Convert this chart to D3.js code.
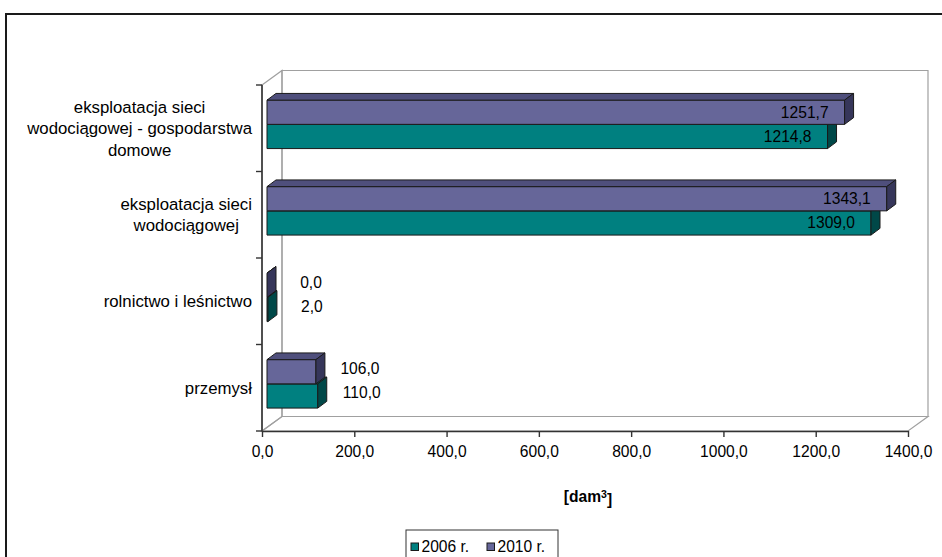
<!DOCTYPE html>
<html>
<head>
<meta charset="utf-8">
<script src="https://cdnjs.cloudflare.com/ajax/libs/d3/7.8.5/d3.min.js"></script>
<style>
  body { margin: 0; background: #fff; }
  text { font-family: "Liberation Sans", Arial, sans-serif; fill: #000; }
</style>
</head>
<body>
<svg id="chart"></svg>
<script>
// data
const categories = [
    "eksploatacja sieci\nwodociągowej - gospodarstwa\ndomowe",
    "eksploatacja sieci\nwodociągowej",
    "rolnictwo i leśnictwo",
    "przemysł"
];
const seriesNames = ["2006 r.", "2010 r."];
const values2006 = [1214.8, 1309.0, 2.0, 110.0];
const values2010 = [1251.7, 1343.1, 0.0, 106.0];
const xTicks = [0, 200, 400, 600, 800, 1000, 1200, 1400];
const axisTitle = "[dam";

const colors = {
    "2006 r.": {front: "#008080", top: "#006666", side: "#004848"},
    "2010 r.": {front: "#666699", top: "#4f4f7c", side: "#36365a"}
};

const W = 942, H = 557;
const plot = {left: 262, right: 908, top: 85, bottom: 431};
const wall = {dx: 20, dy: -14.5};            // depth of the 3d box
const bar = {dx: 9, dy: -6.7, ox: 5, oy: 3.9}; // depth of the bars

const svg = d3.select("#chart")
    .attr("width", W)
    .attr("height", H);

// outer frame
svg.append("rect")
    .attr("x", 6).attr("y", 14)
    .attr("width", 1000).attr("height", 600)
    .attr("fill", "#fff")
    .attr("stroke", "#1a1a1a")
    .attr("stroke-width", 2);

const x = d3.scaleLinear()
    .domain([0, 1400])
    .range([plot.left, plot.right]);

const yCat = d3.scaleBand()
    .domain(categories)
    .range([plot.top, plot.bottom]);

const ySer = d3.scaleBand()
    .domain(["2010 r.", "2006 r."])
    .range([yCat.bandwidth() * 0.22, yCat.bandwidth() * 0.78]);

// walls and floor
const pts = a => a.map(p => p.join(",")).join(" ");
const x0 = x(0), x1 = x(1400);
const walls = svg.append("g")
    .attr("fill", "none")
    .attr("stroke", "#a0a0a0")
    .attr("stroke-width", 1.2);
walls.append("polygon").attr("points", pts([
    [x0 + wall.dx, plot.top + wall.dy], [x1 + wall.dx, plot.top + wall.dy],
    [x1 + wall.dx, plot.bottom + wall.dy], [x0 + wall.dx, plot.bottom + wall.dy]]));
walls.append("polygon").attr("points", pts([
    [x0, plot.top], [x0 + wall.dx, plot.top + wall.dy],
    [x0 + wall.dx, plot.bottom + wall.dy], [x0, plot.bottom]]));
walls.append("polygon").attr("points", pts([
    [x0, plot.bottom], [x0 + wall.dx, plot.bottom + wall.dy],
    [x1 + wall.dx, plot.bottom + wall.dy], [x1, plot.bottom]]));

// x axis
const fmt = v => d3.format(".1f")(v).replace(".", ",");
const xAxis = d3.axisBottom(x)
    .tickValues(xTicks)
    .tickFormat(fmt)
    .tickSize(6)
    .tickSizeOuter(0)
    .tickPadding(9);
const xg = svg.append("g")
    .attr("transform", `translate(0, ${plot.bottom})`)
    .call(xAxis);
xg.select(".domain").attr("stroke", "#333").attr("stroke-width", 1.6);
xg.selectAll(".tick line").attr("stroke", "#333").attr("stroke-width", 1.4);
xg.selectAll(".tick text")
    .style("font-family", "'Liberation Sans', Arial, sans-serif")
    .style("font-size", "15.6px")
    .attr("fill", "#000");

// y axis (ticks on category boundaries)
const yg = svg.append("g").attr("stroke", "#333");
yg.append("line")
    .attr("x1", x0).attr("x2", x0)
    .attr("y1", plot.top).attr("y2", plot.bottom)
    .attr("stroke-width", 1.6);
const bounds = categories.map(c => yCat(c)).concat([plot.bottom]);
yg.selectAll(".ytick").data(bounds).enter()
    .append("line")
    .attr("x1", x0 - 6).attr("x2", x0)
    .attr("y1", d => d).attr("y2", d => d)
    .attr("stroke-width", 1.4);

// category labels
categories.forEach(c => {
    const lines = c.split("\n");
    const cy = yCat(c) + yCat.bandwidth() / 2;
    const t = svg.append("g");
    const texts = t.selectAll("text").data(lines).enter()
        .append("text")
        .attr("y", (d, i) => cy + (i - (lines.length - 1) / 2) * 21.6)
        .attr("dy", "0.35em")
        .attr("text-anchor", "middle")
        .style("font-size", "16.8px")
        .text(d => d);
    let maxW = 0;
    texts.each(function() { maxW = Math.max(maxW, this.getComputedTextLength()); });
    texts.attr("x", 252 - maxW / 2);
});

// bars
const barsG = svg.append("g");
const rows = [];
categories.forEach((c, i) => {
    rows.push({cat: c, series: "2006 r.", v: values2006[i]});
    rows.push({cat: c, series: "2010 r.", v: values2010[i]});
});

rows.forEach(d => {
    const col = colors[d.series];
    const bx = x(0) + bar.ox;
    const by = yCat(d.cat) + ySer(d.series) - bar.oy;
    const w = x(d.v) - x(0);
    const h = ySer.bandwidth();
    const g = barsG.append("g")
        .attr("stroke", "#1a1a1a")
        .attr("stroke-width", 1)
        .attr("stroke-linejoin", "round");
    g.append("rect")
        .attr("x", bx).attr("y", by)
        .attr("width", w).attr("height", h)
        .attr("fill", col.front);
    g.append("polygon")
        .attr("points", pts([[bx, by], [bx + bar.dx, by + bar.dy],
            [bx + w + bar.dx, by + bar.dy], [bx + w, by]]))
        .attr("fill", col.top);
    g.append("polygon")
        .attr("points", pts([[bx + w, by], [bx + w + bar.dx, by + bar.dy],
            [bx + w + bar.dx, by + h + bar.dy], [bx + w, by + h]]))
        .attr("fill", col.side);
    d.lx = bx + w;
    d.ly = by + h / 2;
});

// value labels
svg.append("g").selectAll("text").data(rows).enter()
    .append("text")
    .attr("x", d => d.v > 600 ? d.lx - 16 : d.lx + 44)
    .attr("y", d => d.v > 600 ? d.ly : d.ly - 3)
    .attr("dy", "0.35em")
    .attr("text-anchor", d => d.v > 600 ? "end" : "middle")
    .style("font-size", "15.6px")
    .attr("fill", "#111")
    .text(d => fmt(d.v));

// axis title
const title = svg.append("text")
    .attr("x", 588).attr("y", 497)
    .attr("dy", "0.35em")
    .attr("text-anchor", "middle")
    .style("font-size", "15.6px")
    .style("font-weight", "bold");
title.append("tspan").text(axisTitle);
title.append("tspan").attr("dy", "-0.45em").style("font-size", "10.5px").text("3");
title.append("tspan").attr("dy", "0.45em").text("]");

// legend
const lg = svg.append("g");
lg.append("rect")
    .attr("x", 406).attr("y", 530)
    .attr("width", 152).attr("height", 40)
    .attr("fill", "#fff")
    .attr("stroke", "#333")
    .attr("stroke-width", 1);
const legendX = [411, 487];
seriesNames.forEach((s, i) => {
    lg.append("rect")
        .attr("x", legendX[i]).attr("y", 543)
        .attr("width", 7.5).attr("height", 7.5)
        .attr("fill", colors[s].front)
        .attr("stroke", "#1a1a1a")
        .attr("stroke-width", 1);
    lg.append("text")
        .attr("x", legendX[i] + 10.5).attr("y", 551.5)
        .style("font-size", "15.6px")
        .text(s);
});
</script>
</body>
</html>
